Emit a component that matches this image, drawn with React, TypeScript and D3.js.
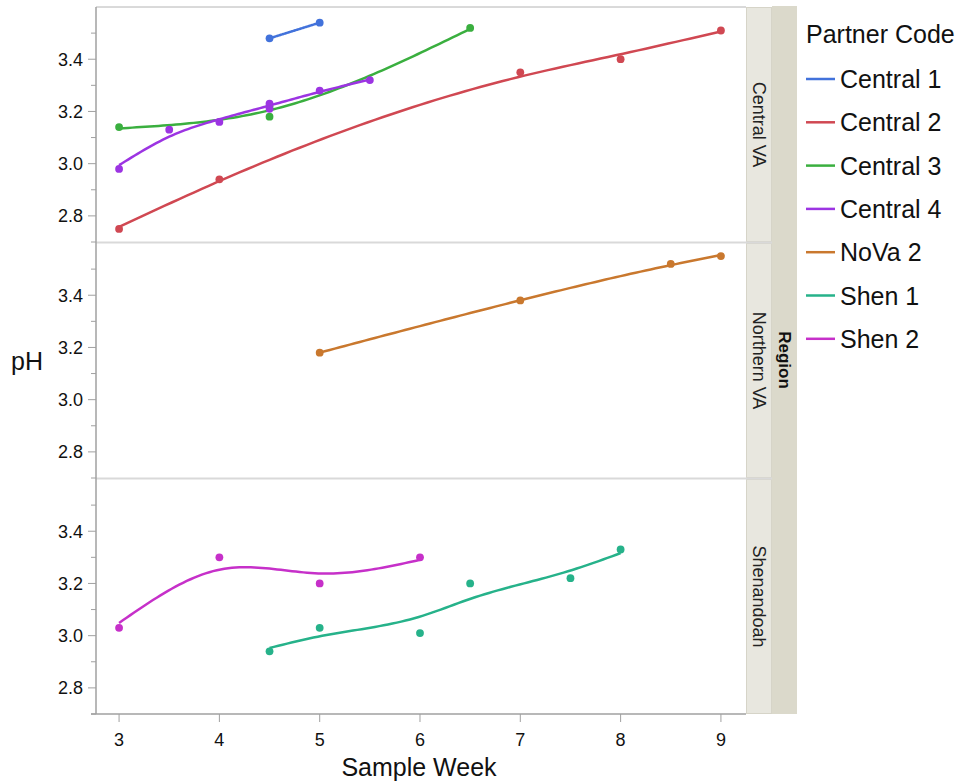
import React from 'react';
import * as d3 from 'd3';

const regions = ['Central VA', 'Northern VA', 'Shenandoah'];
const partners = ['Central 1', 'Central 2', 'Central 3', 'Central 4', 'NoVa 2', 'Shen 1', 'Shen 2'];
const partnerRegion = ['Central VA', 'Central VA', 'Central VA', 'Central VA', 'Northern VA', 'Shenandoah', 'Shenandoah'];
const partnerColors = ['#4272db', '#d04852', '#3aaf3f', '#9c34e2', '#c9782e', '#26b28a', '#c630c9'];

const central1Week = [4.5, 5];
const central1PH = [3.48, 3.54];
const central2Week = [3, 4, 7, 8, 9];
const central2PH = [2.75, 2.94, 3.35, 3.4, 3.51];
const central3Week = [3, 4.5, 4.5, 6.5];
const central3PH = [3.14, 3.18, 3.22, 3.52];
const central4Week = [3, 3.5, 4, 4.5, 4.5, 5, 5.5];
const central4PH = [2.98, 3.13, 3.16, 3.23, 3.21, 3.28, 3.32];
const nova2Week = [5, 7, 8.5, 9];
const nova2PH = [3.18, 3.38, 3.52, 3.55];
const shen1Week = [4.5, 5, 6, 6.5, 7.5, 8];
const shen1PH = [2.94, 3.03, 3.01, 3.2, 3.22, 3.33];
const shen2Week = [3, 4, 5, 6];
const shen2PH = [3.03, 3.3, 3.2, 3.3];

const weeks = [central1Week, central2Week, central3Week, central4Week, nova2Week, shen1Week, shen2Week];
const phs = [central1PH, central2PH, central3PH, central4PH, nova2PH, shen1PH, shen2PH];

const xTicks = [3, 4, 5, 6, 7, 8, 9];
const yTicks = [2.8, 3.0, 3.2, 3.4];
const yMinor = [2.7, 2.9, 3.1, 3.3, 3.5];

// cubic smoothing spline (Reinsch)
function smoother(xs: number[], ys: number[], lam: number) {
  const grp = d3
    .rollups(xs.map((x, i) => [x, ys[i]]), (v) => ({ w: v.length, y: d3.mean(v, (d) => d[1]) as number }), (d) => d[0])
    .sort((a, b) => a[0] - b[0]);
  const x = grp.map((g) => g[0]);
  const y = grp.map((g) => g[1].y);
  const w = grp.map((g) => g[1].w);
  const n = x.length;
  if (n < 3) {
    return (t: number) => y[0] + ((y[1] - y[0]) * (t - x[0])) / (x[1] - x[0]);
  }
  const h = d3.range(n - 1).map((i) => x[i + 1] - x[i]);
  const m = n - 2;
  const Q = d3.range(n).map(() => new Array(m).fill(0));
  const M = d3.range(m).map(() => new Array(m).fill(0));
  for (let j = 0; j < m; j++) {
    const k = j + 1;
    Q[k - 1][j] = 1 / h[k - 1];
    Q[k][j] = -1 / h[k - 1] - 1 / h[k];
    Q[k + 1][j] = 1 / h[k];
    M[j][j] = (h[k - 1] + h[k]) / 3;
    if (j + 1 < m) {
      M[j][j + 1] = h[k] / 6;
      M[j + 1][j] = h[k] / 6;
    }
  }
  const b = new Array(m).fill(0);
  for (let a = 0; a < m; a++) {
    for (let c = 0; c < m; c++) {
      let s = 0;
      for (let i = 0; i < n; i++) s += (Q[i][a] * Q[i][c]) / w[i];
      M[a][c] += lam * s;
    }
    for (let i = 0; i < n; i++) b[a] += Q[i][a] * y[i];
  }
  for (let p = 0; p < m; p++) {
    for (let r = p + 1; r < m; r++) {
      const f = M[r][p] / M[p][p];
      for (let c = p; c < m; c++) M[r][c] -= f * M[p][c];
      b[r] -= f * b[p];
    }
  }
  const gam = new Array(m).fill(0);
  for (let p = m - 1; p >= 0; p--) {
    let s = b[p];
    for (let c = p + 1; c < m; c++) s -= M[p][c] * gam[c];
    gam[p] = s / M[p][p];
  }
  const g = y.map((yi, i) => {
    let s = 0;
    for (let j = 0; j < m; j++) s += Q[i][j] * gam[j];
    return yi - (lam * s) / w[i];
  });
  const G = [0, ...gam, 0];
  return (t: number) => {
    let i = 0;
    while (i < n - 2 && t > x[i + 1]) i++;
    const hi = h[i];
    const a = t - x[i];
    const bb = x[i + 1] - t;
    return (a * g[i + 1] + bb * g[i]) / hi - (a * bb * ((1 + a / hi) * G[i + 1] + (1 + bb / hi) * G[i])) / 6;
  };
}

export default function App() {
  const width = 965;
  const height = 784;
  const left = 96;
  const right = 746;
  const top = 7;
  const panelH = 235;
  const gap = 1;
  const bottom = top + panelH * 3 + gap * 2;
  const font = '"Liberation Sans", Arial, Helvetica, sans-serif';

  const x = d3.scaleLinear().domain([2.77, 9.25]).range([left, right]);
  const panelTop = (r: number) => top + r * (panelH + gap);
  const yFor = (r: number) => d3.scaleLinear().domain([2.7, 3.6]).range([panelTop(r) + panelH, panelTop(r)]);

  return (
    <svg width={width} height={height} style={{ position: 'absolute', left: 0, top: 0 }} fontFamily={font}>
      <rect width={width} height={height} fill="#fff" />
      <rect x={772} y={top - 1} width={25} height={bottom - top + 1} fill="#dbd9cb" />
      {regions.map((r, ri) => (
        <g key={r}>
          <rect x={right + 0.5} y={panelTop(ri) + 0.5} width={25} height={panelH - 1} fill="#e8e7df" stroke="#d6d4c8" />
          <text
            transform={`translate(${759},${panelTop(ri) + panelH / 2}) rotate(90)`}
            textAnchor="middle"
            dy="0.35em"
            fontSize={18}
            fill="#222"
          >
            {r}
          </text>
        </g>
      ))}
      <text transform={`translate(785,360) rotate(90)`} textAnchor="middle" dy="0.35em" fontSize={17} fontWeight="bold" fill="#111">
        Region
      </text>
      {[1, 2].map((r) => (
        <line key={r} x1={left} x2={772} y1={panelTop(r) - 0.5} y2={panelTop(r) - 0.5} stroke="#d9d9d9" strokeWidth={2} />
      ))}
      <line x1={left} x2={right} y1={top} y2={top} stroke="#b4b4b4" />
      {regions.map((r, ri) => {
        const y = yFor(ri);
        return (
          <g key={r}>
            {yTicks.map((t) => (
              <g key={t}>
                <line x1={left - 8} x2={left} y1={y(t)} y2={y(t)} stroke="#a0a0a0" />
                <text x={83} y={y(t)} dy="0.36em" textAnchor="end" fontSize={18} fill="#111">
                  {d3.format('.1f')(t)}
                </text>
              </g>
            ))}
            {yMinor.map((t) => (
              <line key={t} x1={left - 5} x2={left} y1={y(t)} y2={y(t)} stroke="#a0a0a0" />
            ))}
          </g>
        );
      })}
      <line x1={left} x2={left} y1={top} y2={bottom} stroke="#a0a0a0" strokeWidth={1.5} />
      <line x1={left - 5} x2={right} y1={bottom} y2={bottom} stroke="#a0a0a0" strokeWidth={1.5} />
      {xTicks.map((t) => (
        <g key={t}>
          <line x1={x(t)} x2={x(t)} y1={bottom} y2={bottom + 8} stroke="#a0a0a0" />
          <text x={x(t)} y={746} textAnchor="middle" fontSize={18} fill="#111">
            {t}
          </text>
        </g>
      ))}
      <text x={(left + right) / 2 - 2} y={776} textAnchor="middle" fontSize={25} fill="#111">
        Sample Week
      </text>
      <text x={11} y={370} fontSize={25} fill="#111">
        pH
      </text>
      {partners.map((p, pi) => {
        const ri = regions.indexOf(partnerRegion[pi]);
        const y = yFor(ri);
        const xs = weeks[pi];
        const ys = phs[pi];
        const [x0, x1] = d3.extent(xs) as [number, number];
        // smoothing scaled to each series' week span
        const f = smoother(xs, ys, 0.05 * Math.pow((x1 - x0) / 3, 3));
        const samples = d3.range(0, 81).map((k) => x0 + ((x1 - x0) * k) / 80);
        const line = d3
          .line<number>()
          .x((d) => x(d))
          .y((d) => y(f(d)));
        return (
          <g key={p}>
            <path d={line(samples) || ''} fill="none" stroke={partnerColors[pi]} strokeWidth={2.5} />
            {xs.map((d, i) => (
              <circle key={i} cx={x(d)} cy={y(ys[i])} r={3.9} fill={partnerColors[pi]} />
            ))}
          </g>
        );
      })}
      <text x={806} y={43} fontSize={25} fill="#111">
        Partner Code
      </text>
      {partners.map((p, pi) => (
        <g key={p} transform={`translate(806,${79 + pi * 43.3})`}>
          <line x1={0} x2={29} y1={0} y2={0} stroke={partnerColors[pi]} strokeWidth={2.5} />
          <text x={34} y={0} dy="0.36em" fontSize={25} fill="#111">
            {p}
          </text>
        </g>
      ))}
    </svg>
  );
}
